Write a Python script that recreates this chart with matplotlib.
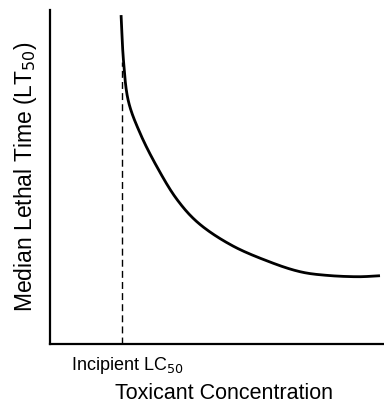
import matplotlib
matplotlib.use('Agg')
import matplotlib.pyplot as plt
import numpy as np

plt.rcParams['font.family'] = ['Liberation Sans', 'DejaVu Sans']

# curve (arbitrary units, axes 0..100)
conc = [21.3, 22.0, 23.4, 26.9, 32.0, 38.0, 44.9, 54.8, 65.9, 74.9, 83.0, 92.0, 98.8]
lt50 = [98.5, 85.1, 73.1, 63.3, 53.1, 43.3, 35.8, 29.3, 24.5, 21.6, 20.5, 20.1, 20.4]
incipient_lc50 = 21.5
dash_top = 84.5


def catmull_rom(px, py, n=30):
    # smooth curve through the points
    p = np.column_stack([px, py])
    p = np.vstack([2 * p[0] - p[1], p, 2 * p[-1] - p[-2]])
    out = []
    for i in range(1, len(p) - 2):
        p0, p1, p2, p3 = p[i - 1], p[i], p[i + 1], p[i + 2]
        t = np.linspace(0, 1, n, endpoint=False)[:, None]
        seg = 0.5 * ((2 * p1) + (-p0 + p2) * t
                     + (2 * p0 - 5 * p1 + 4 * p2 - p3) * t ** 2
                     + (-p0 + 3 * p1 - 3 * p2 + p3) * t ** 3)
        out.append(seg)
    out.append(p[-2][None, :])
    out = np.vstack(out)
    return out[:, 0], out[:, 1]


fig = plt.figure(figsize=(3.84, 4.04), dpi=100)
ax = fig.add_axes([0.130, 0.149, 0.870, 0.826])

xs, ys = catmull_rom(conc, lt50)
ax.plot(xs, ys, color='black', lw=2.0, solid_capstyle='butt')

ax.plot([incipient_lc50, incipient_lc50], [0, dash_top], color='black',
        lw=1.0, ls=(0, (5, 3)))

ax.set_xlim(0, 100)
ax.set_ylim(0, 100)
ax.set_xticks([])
ax.set_yticks([])
for s in ['top', 'right']:
    ax.spines[s].set_visible(False)
for s in ['left', 'bottom']:
    ax.spines[s].set_linewidth(1.6)

ax.text(incipient_lc50 + 1.5, -3.5, 'Incipient LC$_{50}$', ha='center', va='top',
        fontsize=13)
ax.set_xlabel('Toxicant Concentration', fontsize=15.5)
ax.xaxis.set_label_coords(0.52, -0.118)
ax.set_ylabel('Median Lethal Time (LT$_{50}$)', fontsize=16.5, labelpad=8)

fig.savefig('out.png', dpi=100)
